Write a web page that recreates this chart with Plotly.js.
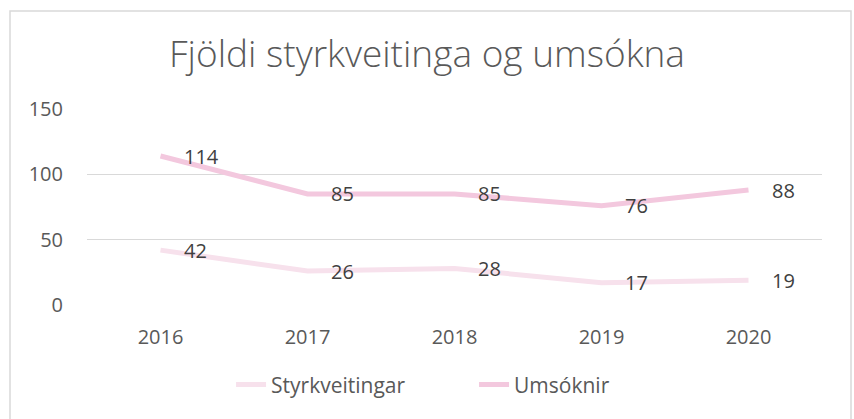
<!DOCTYPE html>
<html>
<head>
<meta charset="utf-8">
<script src="https://cdn.plot.ly/plotly-3.0.1.min.js"></script>
<style>
html,body{margin:0;padding:0;background:#fff;}
#chart{width:854px;height:419px;}
</style>
</head>
<body>
<div id="chart"></div>
<script>
const years = ['2016', '2017', '2018', '2019', '2020'];
const styrkveitingar = [42, 26, 28, 17, 19];
const umsoknir = [114, 85, 85, 76, 88];
const seriesNames = ['Styrkveitingar', 'Umsóknir'];
const yTicks = [0, 50, 100, 150];

const FONT = 'Open Sans, Lato, sans-serif';

const traces = [
  {
    x: years, y: styrkveitingar, name: seriesNames[0],
    type: 'scatter', mode: 'lines',
    line: {color: '#f7e1ec', width: 5}
  },
  {
    x: years, y: umsoknir, name: seriesNames[1],
    type: 'scatter', mode: 'lines',
    line: {color: '#f3c8de', width: 5}
  }
];

function labelAnn(xs, ys) {
  const out = [];
  for (let i = 0; i < xs.length; i++) {
    out.push({
      x: i, y: ys[i], xref: 'x', yref: 'y',
      text: String(ys[i]), showarrow: false,
      xanchor: 'left', yanchor: 'middle', xshift: 21,
      font: {family: FONT, size: 20, color: '#404040'}
    });
  }
  return out;
}

const layout = {
  width: 854, height: 419,
  margin: {l: 87, r: 32, t: 109, b: 114},
  paper_bgcolor: '#fff', plot_bgcolor: '#fff',
  font: {family: FONT, color: '#595959'},
  title: {
    text: 'Fjöldi styrkveitinga og umsókna',
    font: {family: FONT, size: 37, color: '#595959', weight: 300},
    x: 0.5, xanchor: 'center', y: 0.87, yanchor: 'middle', yref: 'container'
  },
  xaxis: {
    type: 'category', range: [-0.5, 4.5],
    showgrid: false, zeroline: false, showline: false,
    ticks: '', ticklabelstandoff: 18,
    tickfont: {family: FONT, size: 20, color: '#595959'}
  },
  yaxis: {
    range: [0, 150], tickvals: yTicks,
    showgrid: true, gridcolor: '#d9d9d9', gridwidth: 1.5,
    zeroline: false, showline: false,
    ticks: '', ticklabelstandoff: 23,
    tickfont: {family: FONT, size: 20, color: '#595959'}
  },
  showlegend: true,
  legend: {
    orientation: 'h', x: 0.196, xanchor: 'left', y: -0.408, yanchor: 'middle',
    font: {family: FONT, size: 21, color: '#595959'},
    entrywidth: 198, entrywidthmode: 'pixels',
    tracegroupgap: 0
  },
  annotations: labelAnn(years, styrkveitingar).concat(labelAnn(years, umsoknir)),
  shapes: [{
    type: 'rect', xref: 'paper', yref: 'paper',
    x0: (10 - 87) / 735, x1: (851 - 87) / 735,
    y0: (305 - 440) / 196, y1: (305 - 11) / 196,
    line: {color: '#d9d9d9', width: 1.5}, fillcolor: 'rgba(0,0,0,0)', layer: 'below'
  }]
};

Plotly.newPlot('chart', traces, layout, {displayModeBar: false, staticPlot: true});
</script>
</body>
</html>
